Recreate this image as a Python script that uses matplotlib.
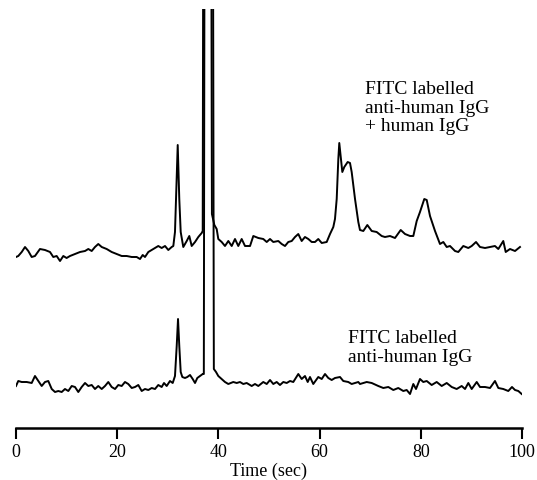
import numpy as np
import matplotlib
matplotlib.use("Agg")
import matplotlib.pyplot as plt

# upper trace: FITC labelled anti-human IgG + human IgG
# time (sec) and signal (arbitrary units)
# the big peak near 38 s runs off the top of the chart
t_top = [0.00, 0.45, 1.13, 1.78, 2.43, 3.10, 3.75, 4.74, 5.73, 6.72,
         7.37, 8.04, 8.70, 9.35, 10.0, 10.67, 11.66, 12.65, 13.64, 14.29,
         14.96, 15.61, 16.26, 16.94, 17.92, 18.91, 19.90, 20.89, 21.88, 22.87,
         23.85, 24.51, 25.04, 25.49, 26.15, 27.13, 28.12, 28.79, 29.45, 30.10,
         30.77, 31.09, 31.42, 31.62, 31.96, 32.27, 32.55, 33.06, 33.74, 34.25,
         34.72, 35.38, 36.03, 36.70, 36.90, 37.00, 38.60, 38.72, 39.20, 39.66,
         39.98, 40.65, 41.30, 41.96, 42.63, 43.28, 43.93, 44.60, 45.26, 46.25,
         46.90, 47.89, 48.87, 49.55, 50.20, 50.85, 51.84, 52.51, 53.16, 53.81,
         54.49, 55.14, 55.79, 56.46, 57.11, 57.77, 58.44, 59.09, 59.74, 60.42,
         61.40, 62.06, 62.71, 63.04, 63.38, 63.70, 63.89, 64.23, 64.49, 64.88,
         65.55, 66.01, 66.34, 67.00, 67.65, 67.98, 68.64, 69.43, 70.30, 71.28,
         72.27, 72.92, 73.91, 74.90, 76.03, 76.88, 77.87, 78.52, 79.19, 79.84,
         80.69, 81.17, 81.82, 82.81, 83.79, 84.45, 85.12, 85.77, 86.76, 87.41,
         88.40, 89.39, 90.06, 90.91, 91.70, 92.69, 93.68, 94.66, 95.32, 96.30,
         96.78, 97.63, 98.62, 99.60]
s_top = [4, 5, 9, 14, 10, 4, 5, 12, 11, 9,
         4, 5, 0, 5, 3, 5, 7, 9, 10, 12,
         10, 14, 17, 14, 12, 9, 7, 5, 5, 4,
         4, 2, 6, 4, 9, 12, 15, 13, 15, 11,
         14, 15, 29, 62, 116, 62, 29, 14, 20, 25,
         15, 19, 24, 28, 30, 330, 330, 47, 36, 32,
         22, 19, 15, 20, 15, 22, 15, 22, 15, 15,
         25, 23, 22, 19, 22, 19, 20, 17, 15, 19,
         20, 24, 27, 20, 24, 22, 19, 19, 22, 18,
         19, 27, 34, 42, 62, 102, 118, 102, 89, 94,
         99, 98, 89, 62, 39, 31, 30, 36, 30, 29,
         25, 24, 25, 23, 31, 27, 25, 25, 40, 49,
         62, 61, 45, 30, 17, 19, 14, 15, 10, 9,
         15, 13, 15, 19, 14, 13, 14, 15, 12, 20,
         9, 12, 10, 14]

# lower trace: FITC labelled anti-human IgG
t_bot = [0.00, 0.45, 1.13, 2.11, 3.10, 3.75, 4.41, 5.08, 5.73, 6.38,
         7.06, 7.71, 8.36, 9.03, 9.68, 10.34, 11.01, 11.66, 12.31, 12.98,
         13.64, 14.29, 14.96, 15.61, 16.26, 16.94, 17.59, 18.24, 18.91, 19.57,
         20.22, 20.89, 21.54, 22.19, 22.87, 23.52, 24.17, 24.84, 25.49, 26.15,
         26.82, 27.47, 28.12, 28.79, 29.25, 29.78, 30.43, 30.97, 31.42, 31.76,
         32.02, 32.27, 32.55, 32.87, 33.40, 33.85, 34.39, 34.92, 35.38, 35.83,
         36.36, 36.90, 37.12, 37.24, 38.95, 39.10, 39.53, 39.98, 40.65, 41.30,
         41.96, 42.94, 43.62, 44.27, 44.92, 45.59, 46.58, 47.23, 47.89, 48.87,
         49.55, 50.20, 50.85, 51.52, 52.17, 52.83, 53.50, 54.15, 54.80, 55.79,
         56.46, 57.11, 57.65, 58.10, 58.75, 59.74, 60.42, 61.07, 61.72, 62.39,
         63.04, 64.03, 64.68, 65.67, 66.34, 67.00, 67.65, 67.98, 69.31, 70.30,
         71.60, 72.59, 73.58, 74.57, 75.55, 76.54, 77.21, 77.87, 78.52, 79.05,
         79.84, 80.49, 81.17, 82.15, 83.14, 84.13, 85.12, 86.11, 87.09, 88.08,
         88.74, 89.39, 90.06, 91.05, 91.70, 92.69, 93.68, 94.66, 95.32, 96.30,
         97.29, 98.02, 98.62, 99.27, 99.94]
s_bot = [5, 10, 9, 9, 8, 15, 10, 5, 9, 10,
         2, -1, 0, -1, 2, 0, 5, 4, -1, 4,
         8, 5, 6, 2, 5, 2, 5, 9, 4, 2,
         6, 5, 9, 7, 3, 4, 6, 0, 2, 1,
         3, 2, 6, 4, 8, 5, 10, 8, 15, 45,
         72, 45, 19, 14, 13, 14, 16, 12, 8, 13,
         15, 17, 17, 420, 420, 22, 19, 15, 12, 9,
         7, 9, 8, 9, 7, 8, 5, 7, 5, 9,
         7, 11, 7, 9, 6, 9, 8, 10, 9, 17,
         12, 15, 9, 14, 7, 14, 12, 17, 13, 11,
         13, 14, 10, 9, 7, 8, 9, 7, 9, 8,
         5, 3, 4, 1, 3, 0, 1, -3, 7, 2,
         12, 9, 10, 6, 9, 5, 8, 4, 2, 5,
         2, 8, 2, 9, 4, 4, 3, 10, 3, 2,
         0, 4, 1, 0, -3]

label_top = "FITC labelled\nanti-human IgG\n+ human IgG"
label_bot = "FITC labelled\nanti-human IgG"

plt.rcParams['font.family'] = ['Liberation Serif', 'DejaVu Serif']

fig = plt.figure(figsize=(5.37, 4.81), dpi=100)
ax = fig.add_axes([16 / 537, 52 / 481, 506 / 537, 419 / 481])

# stack the two traces
off_top = 167
off_bot = 37
ax.plot(t_top, np.array(s_top) + off_top, color='black', lw=1.4)
ax.plot(t_bot, np.array(s_bot) + off_bot, color='black', lw=1.4)

ax.text(69.0, 348, label_top, fontsize=14, va='top', ha='left', linespacing=1.12)
ax.text(65.7, 99, label_bot, fontsize=14, va='top', ha='left', linespacing=1.12)

ax.set_xlim(0, 100)
ax.set_ylim(0, 419)
for side in ['top', 'right', 'left']:
    ax.spines[side].set_visible(False)
ax.spines['bottom'].set_linewidth(1.8)
ax.set_yticks([])
ax.set_xticks([0, 20, 40, 60, 80, 100])
ax.tick_params(axis='x', direction='out', length=8, width=1.5, labelsize=13, pad=3)
ax.set_xlabel("Time (sec)", fontsize=13, labelpad=1)

fig.savefig("out.png", dpi=100)
